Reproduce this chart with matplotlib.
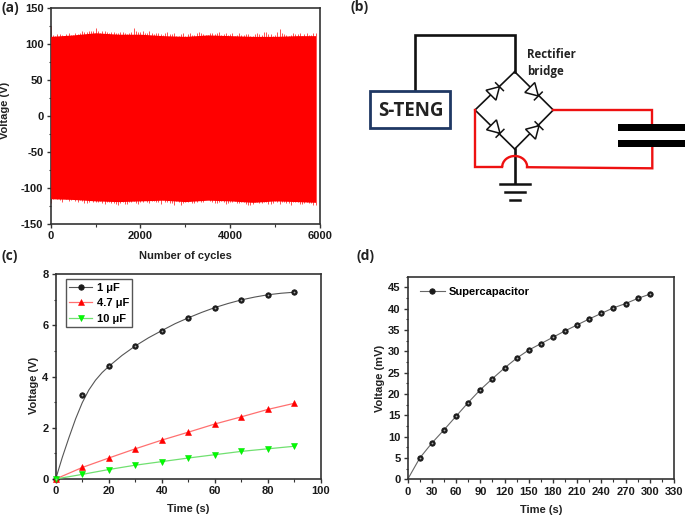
import numpy as np
import matplotlib
matplotlib.use("Agg")
import matplotlib.pyplot as plt
from matplotlib.patches import Polygon, Rectangle, Arc
from matplotlib.ticker import MultipleLocator

plt.rcParams['font.family'] = ['Liberation Sans', 'DejaVu Sans']
plt.rcParams['font.weight'] = 'bold'
plt.rcParams['axes.labelweight'] = 'bold'
plt.rcParams['axes.unicode_minus'] = False

# ---------- data ----------
body_cycles = [0, 500, 1000, 1500, 2000, 2500, 3000, 3500, 4000, 4500, 5000, 5500, 5900]
body_upper = [110, 112, 115, 113, 113, 111, 110, 112, 111, 110, 110, 111, 111]
body_lower = [-115, -116, -118, -119, -118, -117, -119, -117, -118, -120, -118, -119, -120]

peak_cycles = list(range(0, 5950, 50))
peak_upper = [125,112,111,113,113,112,110,113,114,112,
              112,114,113,115,117,116,116,118,118,117,
              121,117,115,117,118,116,114,116,116,114,
              115,116,116,115,113,115,116,121,117,116,
              116,118,114,115,117,114,113,115,115,113,
              112,114,116,113,113,114,111,110,113,115,
              110,113,114,112,112,115,116,114,113,112,
              112,115,115,113,114,116,112,113,114,112,
              113,115,111,112,114,112,112,113,113,111,
              110,113,115,113,112,116,116,113,113,111,
              112,116,120,114,113,112,110,112,115,113,
              113,114,111,113,115,112,112,114,114]
peak_lower = [-121,-116,-113,-115,-117,-119,-114,-116,-118,-117,
              -116,-118,-119,-117,-118,-121,-121,-119,-117,-119,
              -120,-119,-118,-121,-122,-120,-119,-121,-121,-122,
              -124,-121,-120,-122,-122,-120,-119,-118,-121,-122,
              -120,-119,-117,-120,-121,-118,-118,-120,-120,-122,
              -117,-119,-119,-121,-121,-123,-118,-120,-123,-121,
              -120,-119,-118,-121,-121,-119,-117,-120,-120,-116,
              -114,-118,-119,-121,-121,-119,-118,-120,-122,-121,
              -120,-119,-118,-121,-121,-119,-120,-122,-124,-123,
              -122,-120,-119,-121,-121,-119,-120,-122,-122,-121,
              -118,-120,-122,-120,-119,-121,-121,-123,-120,-119,
              -120,-122,-122,-121,-119,-121,-121,-124,-124]

time_c = [0, 10, 20, 30, 40, 50, 60, 70, 80, 90]
v_1uF = [0, 3.3, 4.4, 5.2, 5.8, 6.3, 6.7, 7.0, 7.2, 7.3]
v_47uF = [0, 0.45, 0.82, 1.18, 1.52, 1.83, 2.15, 2.43, 2.72, 2.96]
v_10uF = [0, 0.18, 0.37, 0.54, 0.68, 0.82, 0.95, 1.08, 1.18, 1.28]
fit_t_1uF = [0, 2.5, 5, 7.5, 10, 12.5, 15, 17.5, 20, 25, 30, 35, 40, 45, 50, 55, 60, 65, 70, 75, 80, 85, 90]
fit_v_1uF = [0, 0.85, 1.62, 2.35, 2.98, 3.48, 3.86, 4.16, 4.4, 4.83, 5.2, 5.52, 5.8, 6.07, 6.3, 6.51, 6.7, 6.86, 7.0, 7.11, 7.2, 7.26, 7.3]

time_d = [15, 30, 45, 60, 75, 90, 105, 120, 135, 150, 165, 180, 195, 210, 225, 240, 255, 270, 285, 300]
v_super = [5, 8.5, 11.6, 14.8, 18, 21, 23.6, 26.1, 28.4, 30.3, 31.8, 33.3, 34.8, 36.2, 37.6, 38.9, 40.2, 41.2, 42.4, 43.4]
line_t_super = [0] + time_d
line_v_super = [0] + v_super

W, H = 685, 516
TICK = 8.0
LAB = 8.0
EDGE = '#333333'
fig = plt.figure(figsize=(W / 100, H / 100), dpi=100)

def make_axes(l, r, t, b):
    return fig.add_axes([l / W, 1 - b / H, (r - l) / W, (b - t) / H])

def style(ax, xmaj, xmin, ymaj, ymin, xlim, ylim):
    ax.set_xlim(*xlim)
    ax.set_ylim(*ylim)
    ax.xaxis.set_major_locator(MultipleLocator(xmaj))
    ax.xaxis.set_minor_locator(MultipleLocator(xmin))
    ax.yaxis.set_major_locator(MultipleLocator(ymaj))
    ax.yaxis.set_minor_locator(MultipleLocator(ymin))
    ax.tick_params(which='major', length=3.2, width=1.0, labelsize=TICK, pad=2, color=EDGE, labelcolor='#1a1a1a')
    ax.tick_params(which='minor', length=1.8, width=0.8, color=EDGE)
    for s in ax.spines.values():
        s.set_linewidth(1.2)
        s.set_color(EDGE)

def place_labels(xt, xpos, yt, ypos):
    fig.text(xpos[0] / W, 1 - xpos[1] / H, xt, ha='center', va='center', fontsize=LAB, fontweight='bold', color='#222222')
    fig.text(ypos[0] / W, 1 - ypos[1] / H, yt, ha='center', va='center', rotation=90, fontsize=LAB, fontweight='bold', color='#222222')

SPHERE = dict(marker='o', ms=3.9, mfc='#1a1a1a', mec='#1a1a1a', mew=0.6)
GLINT = dict(marker='o', ms=1.3, mfc='#aaaaaa', mec='none')
UP = dict(marker='^', ms=4.4, mfc='#ff0000', mec='#ff0000', mew=0.4)
DOWN = dict(marker='v', ms=4.4, mfc='#00ff00', mec='#00e000', mew=0.4)

# (a)
axa = make_axes(50.7, 320, 7.5, 224)
style(axa, 2000, 1000, 50, 25, (0, 6000), (-150, 150))
axa.vlines(peak_cycles, peak_lower, peak_upper, color='#ff5050', lw=0.7, zorder=2)
axa.fill_between(body_cycles, body_lower, body_upper, color='#ff0000', lw=0, zorder=3)
place_labels('Number of cycles', (185, 256), 'Voltage (V)', (5, 110))

# (c)
axc = make_axes(55.7, 321, 274.3, 479)
style(axc, 20, 10, 2, 1, (0, 100), (0, 8))
axc.plot(fit_t_1uF, fit_v_1uF, color='#555555', lw=0.8, zorder=2)
axc.plot(time_c, v_1uF, ls='none', zorder=3, clip_on=False, **SPHERE)
axc.plot(time_c, v_1uF, ls='none', zorder=4, clip_on=False, **GLINT)
axc.plot(time_c, v_47uF, color='#ff7070', lw=0.9, zorder=3, clip_on=False, **UP)
axc.plot(time_c, v_10uF, color='#70e070', lw=0.9, zorder=3, clip_on=False, **DOWN)
h1 = plt.Line2D([], [], color='#555555', lw=0.8, **SPHERE)
h2 = plt.Line2D([], [], color='#ff7070', lw=0.9, **UP)
h3 = plt.Line2D([], [], color='#70e070', lw=0.9, **DOWN)
axc.legend([h1, h2, h3], ['1 μF', '4.7 μF', '10 μF'], loc='upper left', bbox_to_anchor=(0.039, 0.975),
           borderaxespad=0, fontsize=8, frameon=True, fancybox=False, framealpha=1,
           edgecolor='#555555', handlelength=2.1, handletextpad=0.4, labelspacing=0.5, borderpad=0.28)
place_labels('Time (s)', (188, 509), 'Voltage (V)', (34, 385))

# (d)
axd = make_axes(407.7, 674, 276.7, 479.3)
style(axd, 30, 15, 5, 2.5, (0, 330), (0, 47.5))
axd.plot(line_t_super, line_v_super, color='#666666', lw=0.8, zorder=2)
axd.plot(time_d, v_super, ls='none', zorder=3, **SPHERE)
axd.plot(time_d, v_super, ls='none', zorder=4, **GLINT)
h4 = plt.Line2D([], [], color='#666666', lw=0.8, **SPHERE)
axd.legend([h4], ['Supercapacitor'], loc='upper left', bbox_to_anchor=(0.028, 0.97), borderaxespad=0,
           fontsize=8, frameon=False, handlelength=2.3, handletextpad=0.3)
place_labels('Time (s)', (541, 510), 'Voltage (mV)', (380, 378))

# overlay in pixel coordinates for the schematic and panel letters
ov = fig.add_axes([0, 0, 1, 1], zorder=10)
ov.set_xlim(0, W)
ov.set_ylim(H, 0)
ov.axis('off')
ov.patch.set_alpha(0)

for lab, x, y in [('(a)', 1, 8), ('(b)', 351, 7), ('(c)', 1, 256), ('(d)', 357, 256)]:
    ov.text(x, y, lab, fontsize=10, fontweight='bold', family='Open Sans', ha='left', va='center', color='#222222')

BK = '#111111'
RD = '#ee1111'
ov.plot([415.3, 415.3, 514.7, 514.7], [90, 35, 35, 71.7], color=BK, lw=1.9, solid_joinstyle='miter')
top, left, right, bot = (514.7, 71.7), (475, 110), (553.3, 110), (514.7, 149)
for a, b in [(top, left), (top, right), (bot, left), (bot, right)]:
    ov.plot([a[0], b[0]], [a[1], b[1]], color=BK, lw=1.2, zorder=2)

def diode(tip, d):
    d = np.array(d, float) / np.hypot(*d)
    n = np.array([-d[1], d[0]])
    tip = np.array(tip, float)
    base = tip - d * 12
    ov.add_patch(Polygon([tip, base + n * 7, base - n * 7], closed=True, fc='white', ec=BK, lw=1.1, zorder=3))
    ov.plot(*zip(tip + n * 5.5, tip - n * 5.5), color=BK, lw=1.1, zorder=3)

diode((499.5, 86.7), (1, -1))
diode((538.3, 96), (1, 1))
diode((500, 133.3), (1, 1))
diode((539, 125.7), (1, -1))

ov.plot([514.7, 514.7], [149, 183], color=BK, lw=1.9, zorder=2)
for x0, x1, y in [(500.3, 530, 184), (504.7, 525.3, 192), (510, 520.3, 200)]:
    ov.plot([x0, x1], [y, y], color=BK, lw=1.8)

ov.plot([475, 475, 502], [110, 166.7, 166.7], color=RD, lw=1.7, solid_joinstyle='miter', zorder=4)
ov.add_patch(Arc((514.7, 167), 25, 22, theta1=180, theta2=360, color=RD, lw=1.7, zorder=4))
ov.plot([527, 652.3, 652.3], [167.2, 168.3, 146], color=RD, lw=1.7, solid_joinstyle='miter', zorder=4)
ov.plot([553.3, 652.3, 652.3], [110, 110, 125], color=RD, lw=1.7, solid_joinstyle='miter', zorder=4)
ov.add_patch(Rectangle((617.7, 123.8), 67.3, 7.2, fc='black', ec='none', zorder=5))
ov.add_patch(Rectangle((617.7, 139.8), 67.3, 7.2, fc='black', ec='none', zorder=5))

ov.add_patch(Rectangle((370.5, 90.5), 80, 37, fc='white', ec='#1f3864', lw=2.0, zorder=5))
ov.text(410.7, 111, 'S-TENG', fontsize=13.5, fontweight='bold', family='Open Sans', ha='center', va='center', color='#222222', zorder=6)
ov.text(527, 54, 'Rectifier', fontsize=8.3, fontweight='bold', family='Open Sans', ha='left', va='center', color='#222222')
ov.text(527, 71.5, 'bridge', fontsize=8.3, fontweight='bold', family='Open Sans', ha='left', va='center', color='#222222')

fig.savefig('out.png', dpi=100)
